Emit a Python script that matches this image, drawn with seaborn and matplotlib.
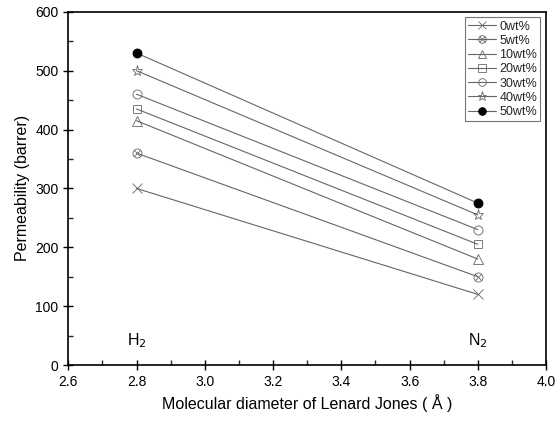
import numpy as np
import pandas as pd
import matplotlib
matplotlib.use("Agg")
import matplotlib.pyplot as plt
import seaborn as sns
from matplotlib.path import Path
from matplotlib.ticker import MultipleLocator

x_vals = [2.8, 3.8]
gases = ["H$_2$", "N$_2$"]
labels = ["0wt%", "5wt%", "10wt%", "20wt%", "30wt%", "40wt%", "50wt%"]
h2 = [300, 360, 415, 435, 460, 500, 530]
n2 = [120, 150, 180, 205, 230, 255, 275]

sns.set_theme(style="white")
plt.rcParams['font.family'] = ['Liberation Sans', 'DejaVu Sans']

# circle with cross marker
circ = Path.unit_circle()
c = np.sqrt(0.5)
cross = Path([(-c, -c), (c, c), (-c, c), (c, -c)],
             [Path.MOVETO, Path.LINETO, Path.MOVETO, Path.LINETO])
otimes = Path.make_compound_path(circ, cross)

markers = ['x', otimes, '^', 's', 'o', '*', 'o']
sizes = [7, 6.5, 7.5, 6, 6.5, 8, 6.5]

rows = []
for lab, a, b in zip(labels, h2, n2):
    rows.append({"x": x_vals[0], "y": a, "series": lab})
    rows.append({"x": x_vals[1], "y": b, "series": lab})
df = pd.DataFrame(rows)

fig, ax = plt.subplots(figsize=(5.55, 4.22), dpi=100)
fig.subplots_adjust(left=0.123, right=0.984, top=0.972, bottom=0.135)

for i, lab in enumerate(labels):
    sub = df[df.series == lab]
    filled = (lab == "50wt%")
    sns.lineplot(data=sub, x="x", y="y", ax=ax, color="#666666", lw=0.8,
                 marker=markers[i], markersize=sizes[i],
                 markerfacecolor="black" if filled else "none",
                 markeredgecolor="black" if filled else "#666666",
                 markeredgewidth=0.6, label=lab)

for xv, g in zip(x_vals, gases):
    ax.text(xv, 42, g, ha="center", va="center", fontsize=11.5, color="black")

ax.set_xlim(2.6, 4.0)
ax.set_ylim(0, 600)
ax.xaxis.set_major_locator(MultipleLocator(0.2))
ax.xaxis.set_minor_locator(MultipleLocator(0.1))
ax.yaxis.set_major_locator(MultipleLocator(100))
ax.yaxis.set_minor_locator(MultipleLocator(50))
ax.xaxis.set_major_formatter(matplotlib.ticker.FormatStrFormatter('%.1f'))
ax.tick_params(axis='both', which='major', direction='inout', length=7, width=1,
               labelsize=10, colors='black', bottom=True, left=True)
ax.tick_params(axis='both', which='minor', direction='in', length=3.5, width=1,
               bottom=True, left=True)
for s in ax.spines.values():
    s.set_color('black')
    s.set_linewidth(1.2)

ax.set_xlabel("Molecular diameter of Lenard Jones ( Å )", fontsize=11.5, color="black")
ax.set_ylabel("Permeability (barrer)", fontsize=11.5, color="black")

leg = ax.legend(loc="upper right", fontsize=9, frameon=True, fancybox=False,
                edgecolor="#555555", handlelength=2.2, handletextpad=0.3,
                borderpad=0.25, labelspacing=0.18, borderaxespad=0.45,
                markerscale=0.85)
leg.get_frame().set_linewidth(0.8)

fig.savefig("out.png", dpi=100, facecolor="white")
